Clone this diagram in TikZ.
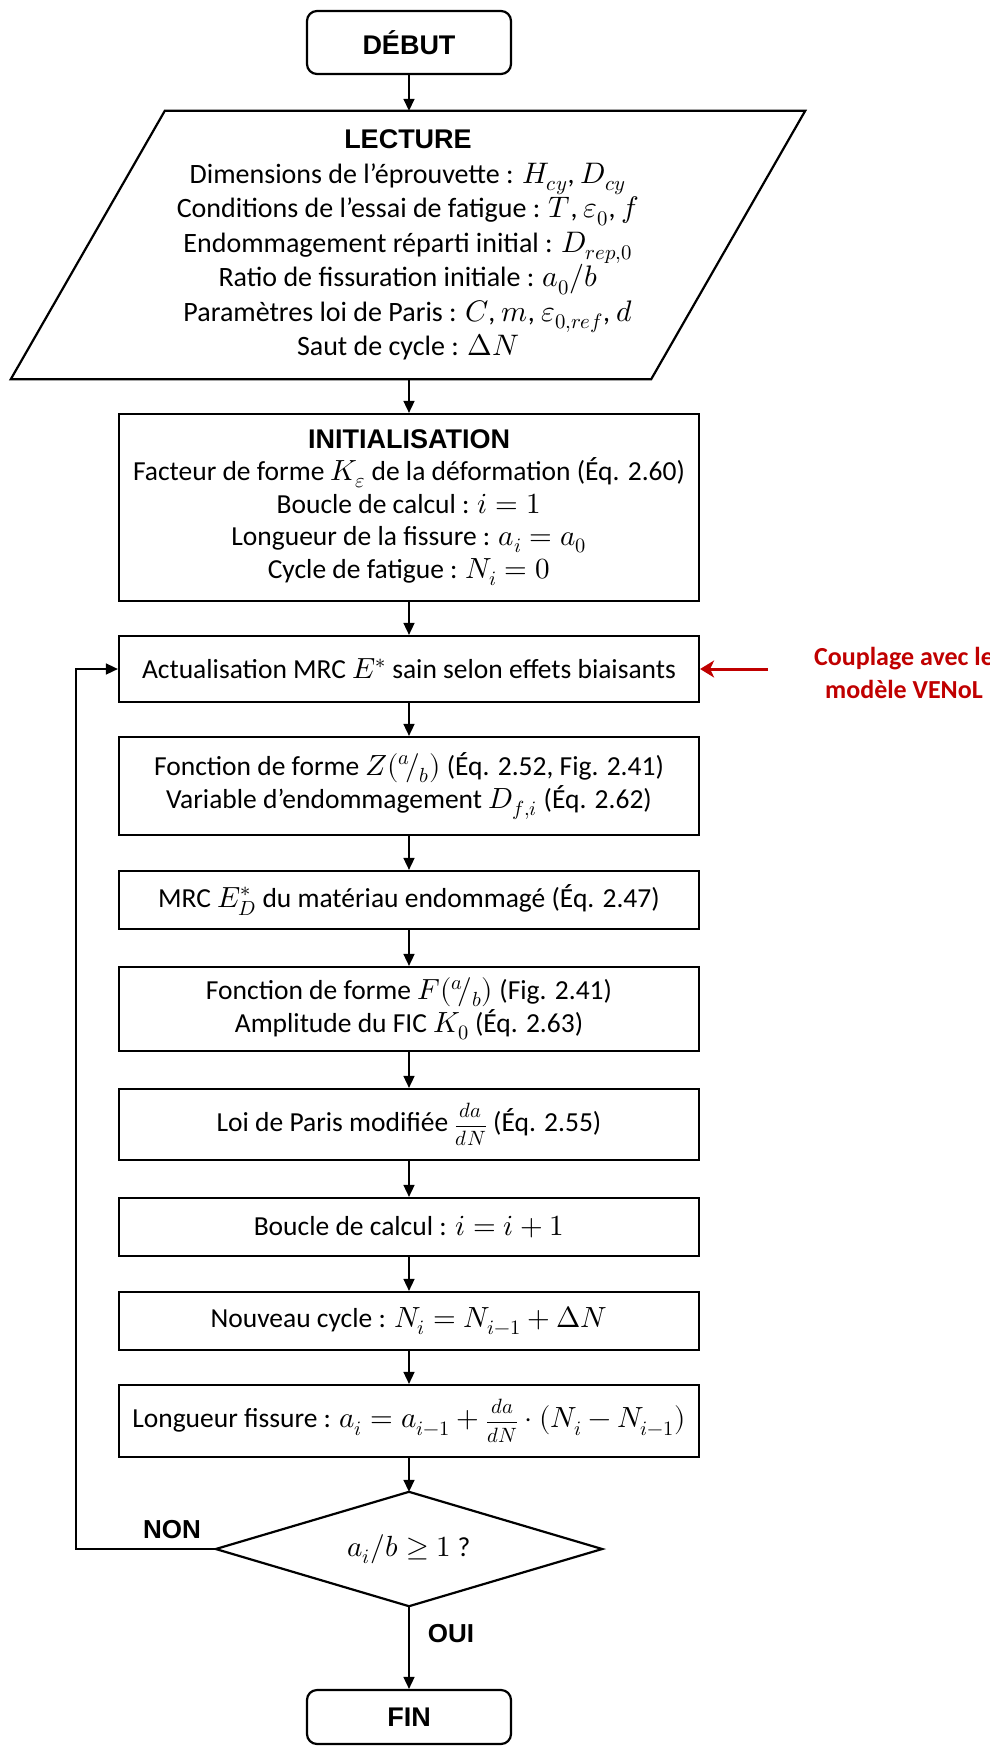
\documentclass[tikz,border=0pt]{standalone}
\usepackage{fontspec}
\usepackage{unicode-math}
\setmainfont{Carlito}
\setmathfont{latinmodern-math.otf}[Scale=1.06]
\newfontfamily\headfont{Liberation Sans}
\usetikzlibrary{arrows.meta,calc}
\definecolor{couplered}{RGB}{192,0,0}
\tikzset{
  flowbox/.style={draw, line width=2.2pt, minimum width=580pt, align=center, inner sep=0pt,
    font=\fontsize{27.5}{33}\selectfont},
  termbox/.style={draw, line width=2.2pt, rounded corners=10pt, minimum width=204pt, inner sep=0pt,
    font=\headfont\bfseries\fontsize{27}{32}\selectfont},
  conn/.style={line width=1.6pt, -{Triangle[length=12pt,width=11pt]}},
  lbl/.style={font=\headfont\bfseries\fontsize{26}{30}\selectfont, inner sep=0pt},
}
\newcommand{\hdtxt}[1]{{\headfont\bfseries\fontsize{27}{34}\selectfont #1}}
\newcommand{\dadn}{\hbox{\fontsize{19.5}{20}\selectfont$\dfrac{da}{dN}$}}
\begin{document}
\begin{tikzpicture}[x=1pt,y=-1pt]
\useasboundingbox (0,0) rectangle (989,1746);

\node[termbox, minimum height=63pt] (debut) at (409,42.5) {DÉBUT};

\node[minimum width=794pt, minimum height=268pt, inner sep=0pt, align=center,
      font=\fontsize{28}{34.5}\selectfont] (lect) at (408,245)
  {\hdtxt{LECTURE}\\
   Dimensions de l’éprouvette : $H_{cy}$, $D_{cy}$\\
   Conditions de l’essai de fatigue : $T$, $\varepsilon_0$, $f$\\
   Endommagement réparti initial : $D_{rep,0}$\\
   Ratio de fissuration initiale : $a_0/b$\\
   Paramètres loi de Paris : $C$, $m$, $\varepsilon_{0,ref}$, $d$\\
   Saut de cycle : $\Delta N$};
\draw[line width=2.2pt] ($(lect.north west)+(154,0)$) -- (lect.north east)
  -- ($(lect.south east)+(-154,0)$) -- (lect.south west) -- cycle;

\node[flowbox, minimum height=187pt, font=\fontsize{27.5}{32.5}\selectfont] (init) at (409,507.5)
  {\hdtxt{INITIALISATION}\\
   Facteur de forme $K_\varepsilon$ de la déformation (Éq. 2.60)\\
   Boucle de calcul : $i=1$\\
   Longueur de la fissure : $a_i=a_0$\\
   Cycle de fatigue : $N_i=0$};

\node[flowbox, minimum height=66pt] (act) at (409,669)
  {Actualisation MRC $E^*$ sain selon effets biaisants};

\node[flowbox, minimum height=98pt] (zf) at (409,786)
  {Fonction de forme $Z({}^{a}\!/_{b})$ (Éq. 2.52, Fig. 2.41)\\
   Variable d’endommagement $D_{f,i}$ (Éq. 2.62)};

\node[flowbox, minimum height=58pt] (mrc) at (409,900)
  {MRC $E_D^*$ du matériau endommagé (Éq. 2.47)};

\node[flowbox, minimum height=84pt] (ff) at (409,1009)
  {Fonction de forme $F({}^{a}\!/_{b})$ (Fig. 2.41)\\
   Amplitude du FIC $K_0$ (Éq. 2.63)};

\node[flowbox, minimum height=71pt] (loi) at (409,1124.5)
  {Loi de Paris modifiée \dadn{} (Éq. 2.55)};

\node[flowbox, minimum height=58pt] (boucle) at (409,1227)
  {Boucle de calcul : $i=i+1$};

\node[flowbox, minimum height=58pt] (nouv) at (409,1321)
  {Nouveau cycle : $N_i=N_{i-1}+\Delta N$};

\node[flowbox, minimum height=72pt] (longf) at (409,1421)
  {Longueur fissure : $a_i=a_{i-1}+\dadn\cdot(N_i-N_{i-1})$};

\node[minimum width=386pt, minimum height=114pt, inner sep=0pt,
      font=\fontsize{27.5}{33}\selectfont] (dec) at (409,1549) {$a_i/b\geq 1$ ?};
\draw[line width=2.2pt] (dec.north) -- (dec.east) -- (dec.south) -- (dec.west) -- cycle;

\node[termbox, minimum height=54pt] (fin) at (409,1717) {FIN};

% connectors
\draw[conn] (debut.south) -- (debut.south |- lect.north);
\draw[conn] (init.north |- lect.south) -- (init.north);
\draw[conn] (init.south) -- (act.north);
\draw[conn] (act.south) -- (zf.north);
\draw[conn] (zf.south) -- (mrc.north);
\draw[conn] (mrc.south) -- (ff.north);
\draw[conn] (ff.south) -- (loi.north);
\draw[conn] (loi.south) -- (boucle.north);
\draw[conn] (boucle.south) -- (nouv.north);
\draw[conn] (nouv.south) -- (longf.north);
\draw[conn] (longf.south) -- (dec.north);
\draw[conn] (dec.south) -- (fin.north);
\coordinate (loopc) at (76,1549);
\draw[conn] (dec.west) -- (loopc) |- (act.west);

\node[lbl] (non) at (172,1530) {NON};
\node[lbl] (oui) at (451,1634) {OUI};

% coupling
\node[font=\bfseries\fontsize{26}{33}\selectfont, text=couplered, align=center, inner sep=0pt]
  (cpl) at (904,673) {Couplage avec le\\modèle VENoL};
\coordinate (cplstart) at (768,669);
\draw[line width=3pt, couplered, -{Stealth[length=14pt,width=17pt,inset=4pt]}] (cplstart) -- (act.east);
\end{tikzpicture}
\end{document}
